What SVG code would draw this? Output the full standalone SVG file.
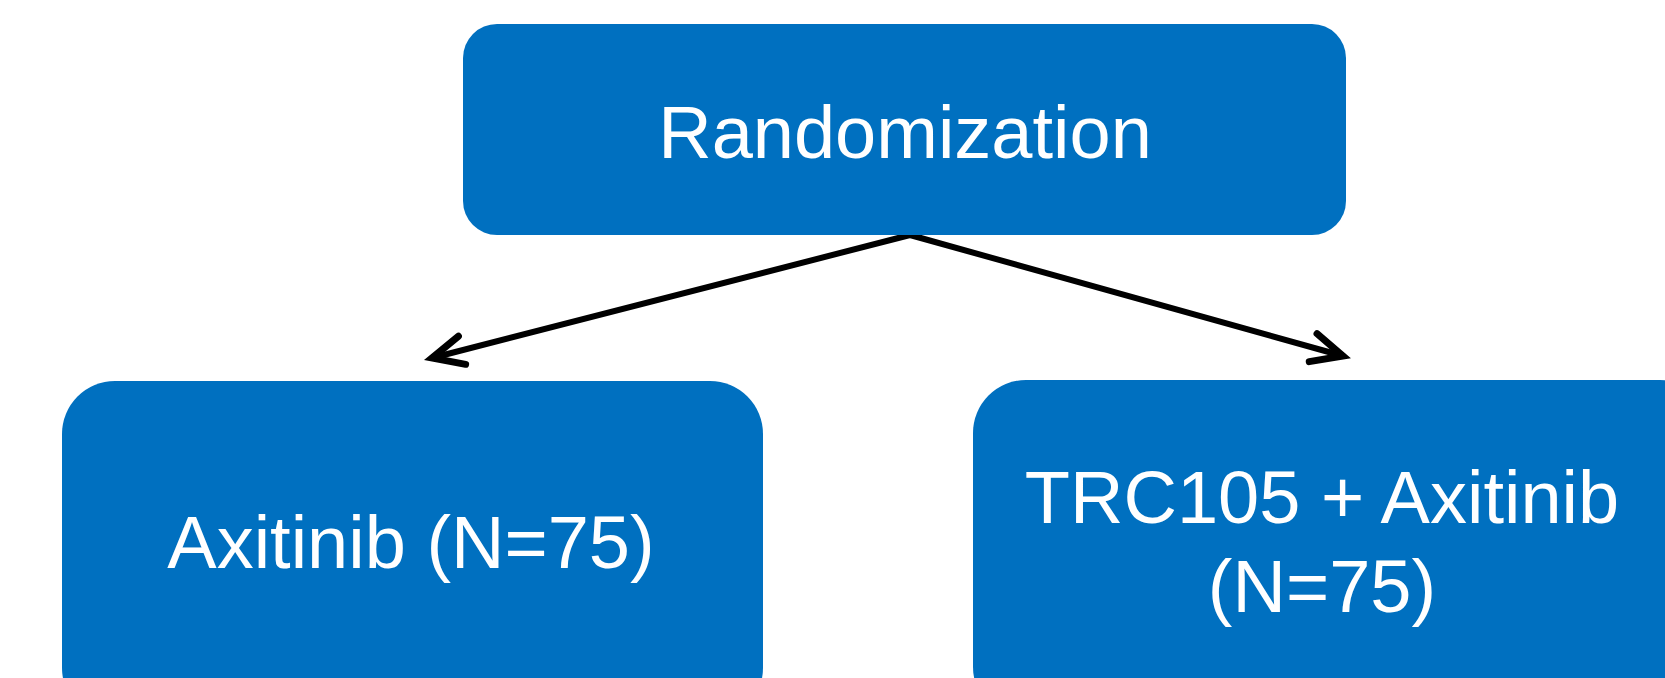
<svg xmlns="http://www.w3.org/2000/svg" width="1665" height="678" viewBox="0 0 1665 678">
<style>
.box{fill:#0070C0;}
.lbl{fill:#ffffff;font-family:"Liberation Sans",Arial,sans-serif;font-size:74px;text-anchor:middle;}
.edge{stroke:#000;stroke-width:6;fill:none;stroke-linecap:round;}
</style>
<defs>
<marker id="arr" markerUnits="userSpaceOnUse" viewBox="-40 -25 50 50" refX="0" refY="0" markerWidth="50" markerHeight="50" orient="auto" overflow="visible">
<path d="M-31,-14.5 L0,0 L-31,14.5" fill="none" stroke="#000" stroke-width="7" stroke-linecap="round" stroke-linejoin="miter"/>
</marker>
</defs>
<rect width="1665" height="678" fill="#ffffff"/>
<g id="connectors">
<path class="edge" d="M910,235 L432,358" marker-end="url(#arr)"/>
<path class="edge" d="M910,235 L1343,356" marker-end="url(#arr)"/>
</g>
<g id="randomization">
<rect class="box" x="463" y="24" width="883" height="211" rx="34" ry="34"/>
<text class="lbl" x="905" y="158" font-size="75">Randomization</text>
</g>
<g id="axitinib">
<rect class="box" x="62" y="381" width="701" height="340" rx="53" ry="53"/>
<text class="lbl" x="411" y="568" font-size="73">Axitinib (N=75)</text>
</g>
<g id="trc105-axitinib">
<rect class="box" x="973" y="380" width="740" height="340" rx="53" ry="53"/>
<text class="lbl" x="1322" y="523">TRC105 + Axitinib</text>
<text class="lbl" x="1322" y="612">(N=75)</text>
</g>
</svg>
